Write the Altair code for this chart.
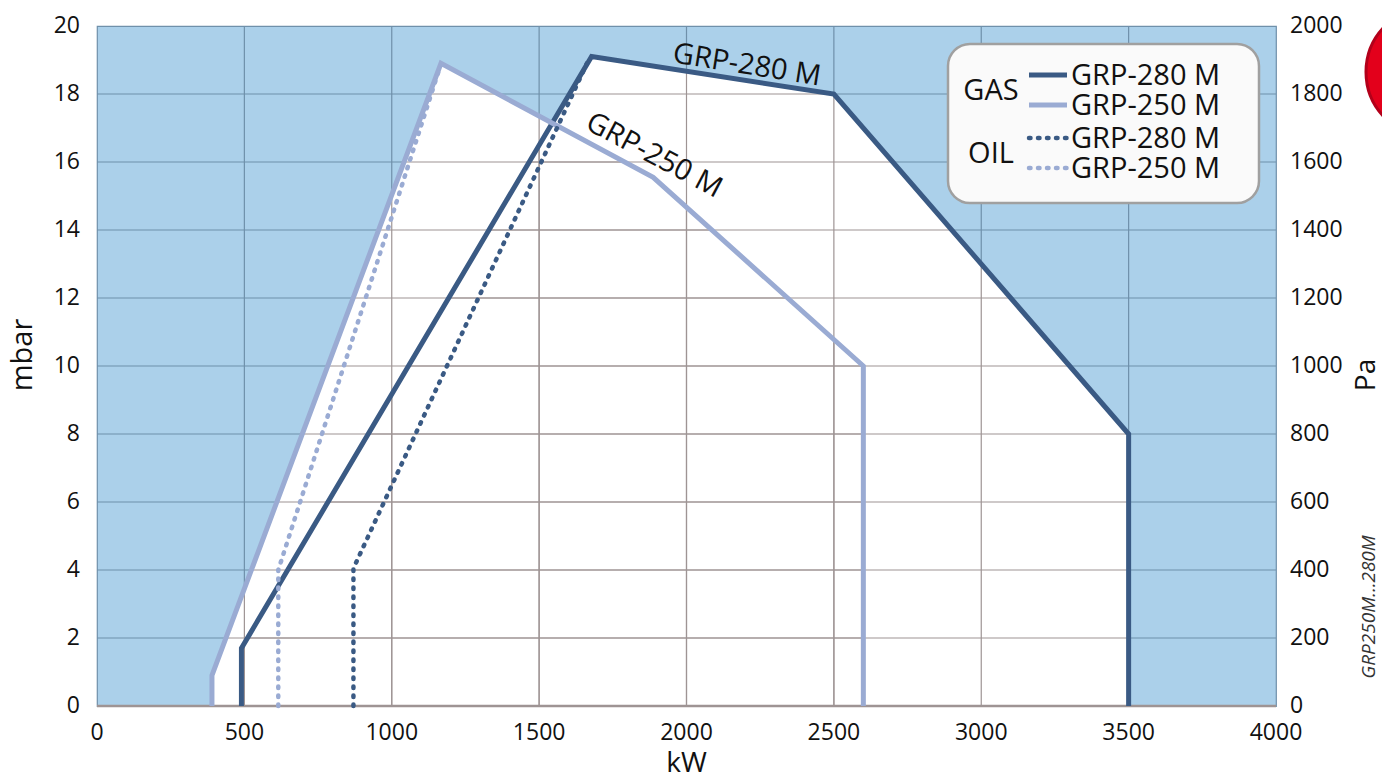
import altair as alt
import pandas as pd

# ---------------- data ----------------
gas280_kw = [490, 490, 1678, 2500, 3500, 3500]
gas280_mbar = [0, 1.7, 19.1, 18.0, 8.0, 0]
gas250_kw = [390, 390, 1167, 1887, 2600, 2600]
gas250_mbar = [0, 0.9, 18.9, 15.55, 10.0, 0]
oil280_kw = [870, 870, 1662]
oil280_mbar = [0, 4.05, 18.9]
oil250_kw = [615, 615, 1160]
oil250_mbar = [0, 4.0, 18.7]

x_ticks = [0, 500, 1000, 1500, 2000, 2500, 3000, 3500, 4000]
y_ticks = [0, 2, 4, 6, 8, 10, 12, 14, 16, 18, 20]
pa_ticks = [0, 200, 400, 600, 800, 1000, 1200, 1400, 1600, 1800, 2000]

series_names = ["GRP-280 M", "GRP-250 M"]
legend_groups = ["GAS", "OIL"]
axis_titles = {"x": "kW", "y": "mbar", "y2": "Pa"}
side_note = "GRP250M...280M"

# ---------------- style ----------------
FONT = "Open Sans"
DARK = "#3a5a84"
LIGHT = "#9aabd3"
BG = "#abd0ea"
GRID_BLUE = "#6f90aa"
GRID_GREY = "#9e9494"
INK = "#111111"
W, H = 1179, 680

xs = alt.Scale(domain=[0, 4000], nice=False, zero=False)
ys = alt.Scale(domain=[0, 20], nice=False, zero=False)


def sdf(kw, mb):
    return pd.DataFrame({"kw": kw, "mbar": mb, "base": [0] * len(kw), "i": list(range(len(kw)))})


def clip_interval(poly, c, vertical):
    vals = []
    n = len(poly)
    for k in range(n):
        (x1, y1), (x2, y2) = poly[k], poly[(k + 1) % n]
        if vertical:
            a1, a2, b1, b2 = x1, x2, y1, y2
        else:
            a1, a2, b1, b2 = y1, y2, x1, x2
        if a1 == a2:
            if a1 == c:
                vals += [b1, b2]
        elif min(a1, a2) <= c <= max(a1, a2):
            t = (c - a1) / (a2 - a1)
            vals.append(b1 + t * (b2 - b1))
    return (min(vals), max(vals)) if vals else None


polys = [list(zip(gas280_kw, gas280_mbar)), list(zip(gas250_kw, gas250_mbar))]
inner_x = x_ticks[1:-1]
inner_y = y_ticks[1:-1]
vseg, hseg = [], []
for p in polys:
    for c in inner_x:
        r = clip_interval(p, c, True)
        if r:
            vseg.append({"kw": c, "lo": r[0], "hi": r[1]})
    for c in inner_y:
        r = clip_interval(p, c, False)
        if r:
            hseg.append({"mbar": c, "x1": r[0], "x2": r[1]})
vseg = pd.DataFrame(vseg)
hseg = pd.DataFrame(hseg)

X = lambda: alt.X("kw:Q", scale=xs, axis=None)
Y = lambda: alt.Y("mbar:Q", scale=ys, axis=None)

# blue grid (full lines, under the white working fields)
vgrid = alt.Chart(pd.DataFrame({"kw": inner_x})).mark_rule(color=GRID_BLUE, strokeWidth=1.2).encode(x=X())
hgrid = alt.Chart(pd.DataFrame({"mbar": inner_y})).mark_rule(color=GRID_BLUE, strokeWidth=1.2).encode(y=Y())

fill280 = alt.Chart(sdf(gas280_kw, gas280_mbar)).mark_area(fill="white", opacity=1).encode(
    x=X(), y=Y(), y2="base:Q")
fill250 = alt.Chart(sdf(gas250_kw, gas250_mbar)).mark_area(fill="white", opacity=1).encode(
    x=X(), y=Y(), y2="base:Q")

# grey grid inside the working fields
vgrey = alt.Chart(vseg).mark_rule(color=GRID_GREY, strokeWidth=1.2).encode(
    x=X(), y=alt.Y("lo:Q", scale=ys, axis=None), y2="hi:Q")
hgrey = alt.Chart(hseg).mark_rule(color=GRID_GREY, strokeWidth=1.2).encode(
    y=Y(), x=alt.X("x1:Q", scale=xs, axis=None), x2="x2:Q")

bottom = alt.Chart(pd.DataFrame({"mbar": [0]})).mark_rule(color=GRID_GREY, strokeWidth=2.5).encode(y=Y())


def line(kw, mb, color, dotted):
    kwargs = dict(color=color, strokeJoin="miter", strokeWidth=5)
    if dotted:
        kwargs = dict(color=color, strokeWidth=4.5, strokeCap="round", strokeDash=[1.5, 7.5], strokeJoin="round")
    return alt.Chart(sdf(kw, mb)).mark_line(**kwargs).encode(x=X(), y=Y(), order="i:Q")


l280 = line(gas280_kw, gas280_mbar, DARK, False)
l250 = line(gas250_kw, gas250_mbar, LIGHT, False)
o280 = line(oil280_kw, oil280_mbar, DARK, True)
o250 = line(oil250_kw, oil250_mbar, LIGHT, True)

lab280 = alt.Chart(pd.DataFrame({"kw": [2205], "mbar": [18.85], "t": [series_names[0]]})).mark_text(
    font=FONT, fontSize=29, angle=9, color=INK, baseline="middle", align="center").encode(x=X(), y=Y(), text="t:N")
lab250 = alt.Chart(pd.DataFrame({"kw": [1890], "mbar": [16.2], "t": [series_names[1]]})).mark_text(
    font=FONT, fontSize=29, angle=28, color=INK, baseline="middle", align="center").encode(x=X(), y=Y(), text="t:N")

# ---------------- axes (as text through the scales) ----------------
xlab = alt.Chart(pd.DataFrame({"kw": x_ticks, "t": [str(v) for v in x_ticks]})).mark_text(
    font=FONT, fontSize=23, color=INK, align="center", baseline="middle").encode(
    x=X(), y=alt.value(H + 27), text="t:N")
ylab = alt.Chart(pd.DataFrame({"mbar": y_ticks, "t": [str(v) for v in y_ticks]})).mark_text(
    font=FONT, fontSize=23, color=INK, align="right", baseline="middle").encode(
    x=alt.value(-17), y=Y(), text="t:N")
# right-hand Pa scale (1 mbar = 100 Pa)
pa_df = pd.DataFrame({"mbar": [p / 100 for p in pa_ticks], "t": [str(p) for p in pa_ticks]})
palab = alt.Chart(pa_df).mark_text(
    font=FONT, fontSize=23, color=INK, align="left", baseline="middle").encode(
    x=alt.value(W + 14), y=Y(), text="t:N")

xtitle = alt.Chart(pd.DataFrame({"t": [axis_titles["x"]]})).mark_text(
    font=FONT, fontSize=28, color=INK, align="center", baseline="alphabetic").encode(
    x=alt.value(W / 2), y=alt.value(H + 66), text="t:N")
ytitle = alt.Chart(pd.DataFrame({"t": [axis_titles["y"]]})).mark_text(
    font=FONT, fontSize=29, color=INK, angle=270, align="center", baseline="middle").encode(
    x=alt.value(-74), y=alt.value(329), text="t:N")
patitle = alt.Chart(pd.DataFrame({"t": [axis_titles["y2"]]})).mark_text(
    font=FONT, fontSize=28, color=INK, angle=270, align="center", baseline="middle").encode(
    x=alt.value(W + 91), y=alt.value(349), text="t:N")

# ---------------- legend ----------------
one = pd.DataFrame({"a": [0]})
legend_box = alt.Chart(one).mark_rect(cornerRadius=22, fill="#fafafa", stroke="#a0a0a0", strokeWidth=2.5).encode(
    x=alt.value(851), x2=alt.value(1162), y=alt.value(18), y2=alt.value(177))

leg_layers = [legend_box]
rows_y = [49, 79, 112, 142]
styles = [(DARK, False), (LIGHT, False), (DARK, True), (LIGHT, True)]
for k, (yy, (col, dot)) in enumerate(zip(rows_y, styles)):
    if dot:
        mk = alt.Chart(one).mark_rule(color=col, strokeWidth=4.5, strokeCap="round", strokeDash=[1.5, 7.5])
    else:
        mk = alt.Chart(one).mark_rule(color=col, strokeWidth=5)
    leg_layers.append(mk.encode(x=alt.value(932), x2=alt.value(970), y=alt.value(yy)))
    leg_layers.append(alt.Chart(pd.DataFrame({"t": [series_names[k % 2]]})).mark_text(
        font=FONT, fontSize=29, color=INK, align="left", baseline="middle").encode(
        x=alt.value(974), y=alt.value(yy + 1), text="t:N"))
for g, yy in zip(legend_groups, [65, 128]):
    leg_layers.append(alt.Chart(pd.DataFrame({"t": [g]})).mark_text(
        font=FONT, fontSize=29, color=INK, align="center", baseline="middle").encode(
        x=alt.value(894), y=alt.value(yy), text="t:N"))

note = alt.Chart(pd.DataFrame({"t": [side_note]})).mark_text(
    font=FONT, fontSize=19, fontStyle="italic", color="#333", angle=270, align="center", baseline="middle").encode(
    x=alt.value(1272), y=alt.value(581), text="t:N")

red = alt.Chart(one).mark_point(filled=True, color="#e3001b", stroke="#b3001a", strokeWidth=3, opacity=1, size=16900).encode(
    x=alt.value(1334), y=alt.value(46))

chart = alt.layer(vgrid, hgrid, fill280, fill250, vgrey, hgrey, bottom,
                  l280, l250, o280, o250, lab280, lab250,
                  xlab, ylab, palab, xtitle, ytitle, patitle,
                  *leg_layers, note, red).properties(
    width=W, height=H,
    autosize=alt.AutoSizeParams(type="none"),
    padding={"left": 89, "top": 18, "right": 106, "bottom": 68},
    background="white",
).configure_view(fill=BG, stroke=GRID_BLUE, strokeWidth=1.2)

chart.save("out.html", embed_options={"renderer": "svg", "actions": False})
